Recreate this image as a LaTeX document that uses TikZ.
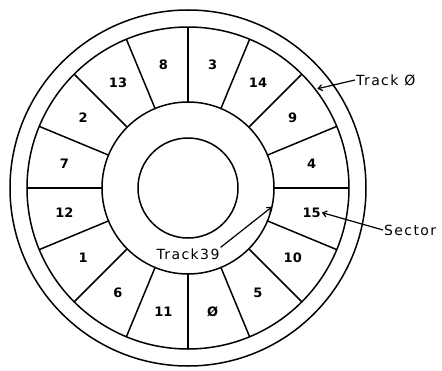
\documentclass[tikz,border=0pt]{standalone}
\usepackage{fontspec}
\setmainfont{DejaVu Sans}
\usetikzlibrary{arrows.meta}
\begin{document}
\begin{tikzpicture}[x=1pt,y=1pt,
  ring/.style={draw,line width=1.5pt},
  divider/.style={draw,line width=1.5pt},
  seclbl/.style={font=\bfseries\fontsize{13}{13}\selectfont, inner sep=1pt},
  lbl/.style={font=\fontsize{14}{14}\selectfont\addfontfeature{LetterSpace=10}, inner sep=1pt},
  arr/.style={line width=1.2pt, -{Straight Barb[length=4pt,width=6pt]}}]
\useasboundingbox (-188,-182) rectangle (254,188);
\coordinate (O) at (0,0);
\draw[ring] (O) circle[radius=178];
\draw[ring] (O) circle[radius=161];
\draw[ring] (O) circle[radius=86];
\draw[ring] (O) circle[radius=50];
\foreach \a in {0,22.5,...,337.5}
  \draw[divider] (\a:86) -- (\a:161);
\foreach \lab/\nm [count=\i from 0] in {3/3,8/8,13/13,2/2,7/7,12/12,1/1,6/6,11/11,Ø/0,5/5,10/10,15/15,4/4,9/9,14/14}
  \node[seclbl] (sec\nm) at ({78.75+22.5*\i}:126) {\lab};
% labels
\node[lbl, anchor=west] (track0) at (167,108) {Track Ø};
\coordinate (t0tip) at (37.5:163);
\draw[arr] (track0.west) -- (t0tip);
\node[lbl, anchor=west] (sector) at (195,-42) {Sector};
\draw[arr] (sector.west) -- (sec15.east);
\node[lbl] (track39) at (0,-66) {Track39};
\coordinate (t39tip) at (-12.7:86);
\draw[arr] (track39.north east) -- (t39tip);
\end{tikzpicture}
\end{document}
